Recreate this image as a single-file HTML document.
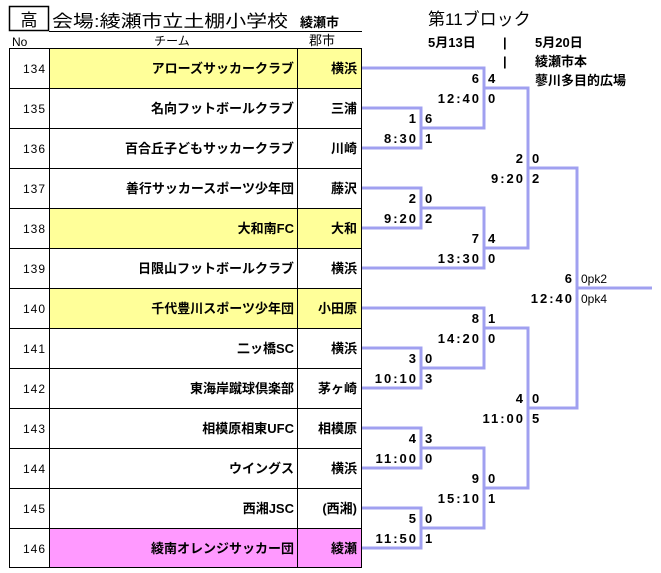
<!DOCTYPE html>
<html><head><meta charset="utf-8"><style>
html,body{margin:0;padding:0;background:#fff;}
svg{display:block;}
text{font-family:"Liberation Sans","Noto Sans CJK JP",sans-serif;fill:#000;}
.j{font-weight:bold;font-size:13px;}
.n{font-size:12px;letter-spacing:1px;}
.s{font-family:"Liberation Sans",sans-serif;font-weight:bold;font-size:13px;}
.l{letter-spacing:2px;}
.pk{font-weight:normal;font-size:12px;}
</style></head><body>
<svg width="661" height="573" viewBox="0 0 661 573" xmlns="http://www.w3.org/2000/svg">
<rect x="9.5" y="6.5" width="39" height="24" fill="none" stroke="#000" stroke-width="1.5"/>
<text x="29" y="26" font-size="17" text-anchor="middle">高</text>
<text x="52" y="27" font-size="17" textLength="236" lengthAdjust="spacingAndGlyphs">会場:綾瀬市立土棚小学校</text>
<text x="300" y="27" class="j" font-size="12">綾瀬市</text>
<line x1="49" y1="31.5" x2="362" y2="31.5" stroke="#000"/>
<text x="428" y="25" font-size="17">第11ブロック</text>
<text x="12" y="46" font-size="12">No</text>
<text x="172" y="45" font-size="12" text-anchor="middle">チーム</text>
<text x="309" y="45" font-size="13">郡市</text>
<text x="428" y="47" class="j">5月13日</text>
<text x="503" y="47" class="j">|</text>
<text x="535" y="47" class="j">5月20日</text>
<text x="503" y="66" class="j">|</text>
<text x="535" y="66" class="j">綾瀬市本</text>
<text x="535" y="85" class="j">蓼川多目的広場</text>
<rect x="49" y="48" width="313" height="40" fill="#ffff99"/>
<rect x="49" y="208" width="313" height="40" fill="#ffff99"/>
<rect x="49" y="288" width="313" height="40" fill="#ffff99"/>
<rect x="49" y="528" width="313" height="40" fill="#ff99ff"/>
<g stroke="#000" stroke-width="1">
<rect x="9.5" y="48.5" width="352" height="519" fill="none"/>
<line x1="49.5" y1="48" x2="49.5" y2="568"/>
<line x1="297.5" y1="48" x2="297.5" y2="568"/>
<line x1="9" y1="88.5" x2="362" y2="88.5"/>
<line x1="9" y1="128.5" x2="362" y2="128.5"/>
<line x1="9" y1="168.5" x2="362" y2="168.5"/>
<line x1="9" y1="208.5" x2="362" y2="208.5"/>
<line x1="9" y1="248.5" x2="362" y2="248.5"/>
<line x1="9" y1="288.5" x2="362" y2="288.5"/>
<line x1="9" y1="328.5" x2="362" y2="328.5"/>
<line x1="9" y1="368.5" x2="362" y2="368.5"/>
<line x1="9" y1="408.5" x2="362" y2="408.5"/>
<line x1="9" y1="448.5" x2="362" y2="448.5"/>
<line x1="9" y1="488.5" x2="362" y2="488.5"/>
<line x1="9" y1="528.5" x2="362" y2="528.5"/>
</g>
<g class="n" text-anchor="end">
<text x="46" y="73">134</text><text x="46" y="113">135</text><text x="46" y="153">136</text>
<text x="46" y="193">137</text><text x="46" y="233">138</text><text x="46" y="273">139</text>
<text x="46" y="313">140</text><text x="46" y="353">141</text><text x="46" y="393">142</text>
<text x="46" y="433">143</text><text x="46" y="473">144</text><text x="46" y="513">145</text>
<text x="46" y="553">146</text>
</g>
<g class="j" text-anchor="end">
<text x="294" y="73">アローズサッカークラブ</text>
<text x="294" y="113">名向フットボールクラブ</text>
<text x="294" y="153">百合丘子どもサッカークラブ</text>
<text x="294" y="193">善行サッカースポーツ少年団</text>
<text x="294" y="233">大和南FC</text>
<text x="294" y="273">日限山フットボールクラブ</text>
<text x="294" y="313">千代豊川スポーツ少年団</text>
<text x="294" y="353">二ッ橋SC</text>
<text x="294" y="393">東海岸蹴球倶楽部</text>
<text x="294" y="433">相模原相東UFC</text>
<text x="294" y="473">ウイングス</text>
<text x="294" y="513">西湘JSC</text>
<text x="294" y="553">綾南オレンジサッカー団</text>
<text x="357" y="73">横浜</text>
<text x="357" y="113">三浦</text>
<text x="357" y="153">川崎</text>
<text x="357" y="193">藤沢</text>
<text x="357" y="233">大和</text>
<text x="357" y="273">横浜</text>
<text x="357" y="313">小田原</text>
<text x="357" y="353">横浜</text>
<text x="357" y="393">茅ヶ崎</text>
<text x="357" y="433">相模原</text>
<text x="357" y="473">横浜</text>
<text x="357" y="513">(西湘)</text>
<text x="357" y="553">綾瀬</text>
</g>
<g fill="none" stroke="#a0a0f0" stroke-width="3">
<polyline points="362,68 484,68 484,128 421,128"/>
<polyline points="362,108 421,108 421,148 362,148"/>
<polyline points="362,188 421,188 421,228 362,228"/>
<polyline points="421,208 484,208 484,268 362,268"/>
<polyline points="484,88 528,88 528,248 484,248"/>
<polyline points="528,168 577,168 577,408 528,408"/>
<line x1="577" y1="288" x2="652" y2="288"/>
<polyline points="362,308 484,308 484,368 421,368"/>
<polyline points="362,348 421,348 421,388 362,388"/>
<polyline points="484,328 528,328 528,488 484,488"/>
<polyline points="362,428 421,428 421,468 362,468"/>
<polyline points="421,448 484,448 484,528 421,528"/>
<polyline points="362,508 421,508 421,548 362,548"/>
</g>
<g class="s l" text-anchor="end">
<text x="481" y="83">6</text><text x="481" y="103">12:40</text>
<text x="418" y="123">1</text><text x="418" y="143">8:30</text>
<text x="525" y="163">2</text><text x="525" y="183">9:20</text>
<text x="418" y="203">2</text><text x="418" y="223">9:20</text>
<text x="481" y="243">7</text><text x="481" y="263">13:30</text>
<text x="574" y="283">6</text><text x="574" y="303">12:40</text>
<text x="481" y="323">8</text><text x="481" y="343">14:20</text>
<text x="418" y="363">3</text><text x="418" y="383">10:10</text>
<text x="525" y="403">4</text><text x="525" y="423">11:00</text>
<text x="418" y="443">4</text><text x="418" y="463">11:00</text>
<text x="481" y="483">9</text><text x="481" y="503">15:10</text>
<text x="418" y="523">5</text><text x="418" y="543">11:50</text>
</g>
<g class="s">
<text x="488" y="83">4</text><text x="488" y="103">0</text>
<text x="425" y="123">6</text><text x="425" y="143">1</text>
<text x="532" y="163">0</text><text x="532" y="183">2</text>
<text x="425" y="203">0</text><text x="425" y="223">2</text>
<text x="488" y="243">4</text><text x="488" y="263">0</text>
<text x="581" y="283" class="pk">0pk2</text><text x="581" y="303" class="pk">0pk4</text>
<text x="488" y="323">1</text><text x="488" y="343">0</text>
<text x="425" y="363">0</text><text x="425" y="383">3</text>
<text x="532" y="403">0</text><text x="532" y="423">5</text>
<text x="425" y="443">3</text><text x="425" y="463">0</text>
<text x="488" y="483">0</text><text x="488" y="503">1</text>
<text x="425" y="523">0</text><text x="425" y="543">1</text>
</g>
</svg>
</body></html>
